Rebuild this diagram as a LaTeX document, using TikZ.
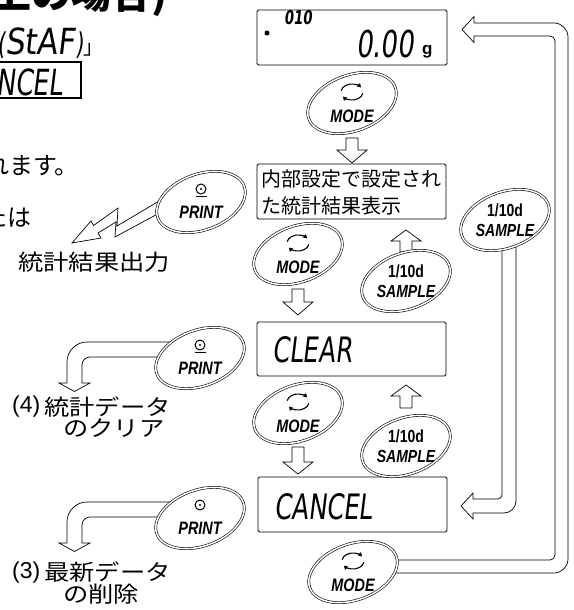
\documentclass[tikz,border=0pt]{standalone}
\usepackage{fontspec}
\setmainfont{Liberation Sans}
\newfontfamily\jp{Noto Sans CJK JP}
\newfontfamily\jpw[FakeStretch=1.15]{Noto Sans CJK JP}
\newfontfamily\segf[FakeStretch=0.7,FakeSlant=0.12]{DejaVu Sans}
\newfontfamily\segw[FakeStretch=0.85,FakeSlant=0.12]{DejaVu Sans}
\newfontfamily\btnf[FakeStretch=0.8]{Liberation Sans}
\usetikzlibrary{arrows.meta,calc}
\newcommand\fs[1]{\fontsize{#1}{#1}\selectfont}
\newcommand\btnoval[1]{\draw[btn,rotate around={20:(#1)}] (#1) ellipse (46 and 28);}
\newcommand\modebtn[2]{%
  \coordinate (#1) at (#2);
  \btnoval{#1}
  \draw[icn] ($(#1)+(0,-11)$) ++(-170:11 and 8) arc[start angle=-170,end angle=-35,x radius=11,y radius=8];
  \draw[icn] ($(#1)+(0,-11)$) ++(10:11 and 8) arc[start angle=10,end angle=145,x radius=11,y radius=8];
  \node[lbl,font=\btnf\bfseries\itshape\fs{18}] (#1t) at ($(#1)+(0,13)$) {MODE};
}
\newcommand\printbtn[3]{%
  \coordinate (#1) at (#2);
  \btnoval{#1}
  \draw[line width=1pt] ($(#1)+(0,-13)$) circle (5);
  \fill ($(#1)+(0,-13)$) circle (1.2);
  #3
  \node[lbl,font=\btnf\bfseries\itshape\fs{18}] (#1t) at ($(#1)+(0,10)$) {PRINT};
}
\newcommand\samplebtn[2]{%
  \coordinate (#1) at (#2);
  \btnoval{#1}
  \node[lbl,font=\btnf\bfseries\fs{17.5}] (#1a) at ($(#1)+(0,-10)$) {1/10d};
  \node[lbl,font=\btnf\bfseries\itshape\fs{17.5}] (#1b) at ($(#1)+(0,10)$) {SAMPLE};
}
\newcommand\blkarrow[4]{%
  \draw[blk] (#1-6,#2) -- (#1+6,#2) -- (#1+6,#3) -- (#1+15,#3) -- (#1,#4) -- (#1-15,#3) -- (#1-6,#3) -- cycle;}
\begin{document}
\begin{tikzpicture}[x=1pt,y=-1pt,
  disp/.style={draw,line width=0.8pt,rounded corners=1.5pt,fill=white,inner sep=0pt},
  blk/.style={draw,line width=0.7pt,fill=white,line join=miter},
  btn/.style={draw,line width=0.6pt,double=white,double distance=1.5pt,fill=white},
  icn/.style={line width=1.1pt,-{Triangle[length=3.8pt,width=4.4pt]}},
  lbl/.style={inner sep=0pt}]
\useasboundingbox (0,0) rectangle (573,610);
\clip (0,0) rectangle (573,610);
\fill[white] (0,0) rectangle (573,610);

% clipped text at top left
\node[lbl,anchor=base east,font=\jp\bfseries\fs{40}] (h0) at (168,9) {以上の場合)};
\node[lbl,anchor=base west] (h1) at (-3,55) {{\segf\fs{30}(}{\segw\fs{36}StAF}{\segf\fs{30})}{\jp\fs{20}」}};
\node[draw,line width=2pt,minimum width=232pt,minimum height=36pt,anchor=east,inner sep=0pt] (h2) at (82,80) {};
\node[lbl,anchor=base east,font=\segf\fs{36}] (h2a) at (63,95) {CANCEL};
\node[lbl,anchor=east,font=\jp\fs{24}] (h3) at (79,166) {されます。};
\node[lbl,anchor=east,font=\jp\fs{24}] (h4) at (32,217.5) {または};

% displays
\node[disp,minimum width=190pt,minimum height=55pt] (d0) at (352,37.5) {};
\fill (267,33) circle (2.5);
\node[lbl,anchor=base west,font=\segf\bfseries\fs{19}] (d0a) at (284,25) {010};
\node[lbl,anchor=base east,font=\segf\fs{37}] (d0b) at (414,57) {0.00};
\node[lbl,anchor=base west,font=\bfseries\fs{17}] (d0c) at (422,55) {g};

\node[disp,minimum width=189pt,minimum height=55pt] (d1) at (351.5,191.5) {};
\node[lbl,anchor=west,font=\jp\fs{20}] (d1a) at (261,179) {内部設定で設定され};
\node[lbl,anchor=west,font=\jp\fs{20}] (d1b) at (261,206) {た統計結果表示};

\node[disp,minimum width=189pt,minimum height=54pt] (d2) at (351.5,349) {};
\node[lbl,anchor=base west,font=\segf\fs{35}] (d2a) at (272,362) {CLEAR};

\node[disp,minimum width=189pt,minimum height=55pt] (d3) at (352.5,504.5) {};
\node[lbl,anchor=base west,font=\segf\fs{35}] (d3a) at (274,519) {CANCEL};

% small block arrows
\blkarrow{352}{138}{150}{163}
\blkarrow{406}{252}{241}{230}
\blkarrow{298}{289}{302}{315}
\blkarrow{406}{408}{396}{385}
\blkarrow{298}{447}{462}{474}

% big loop MODE -> top display
\draw[blk] (474,23) -- (554,23) .. controls (561.7,23) and (568,29.3) .. (568,37) -- (568,559)
  .. controls (568,566.7) and (561.7,573) .. (554,573) -- (380,573) -- (380,560) -- (550,560)
  .. controls (552.8,560) and (555,557.8) .. (555,555) -- (555,41) .. controls (555,38.2) and (552.8,36) .. (550,36)
  -- (474,36) -- (474,42.5) -- (462,29.5) -- (474,16.5) -- cycle;
% loop SAMPLE -> CANCEL
\draw[blk] (502,235) -- (502,495) .. controls (502,497.2) and (499.8,499) .. (498,499) -- (473,499) -- (473,493)
  -- (461,506) -- (473,519) -- (473,513) -- (504,513) .. controls (510.6,513) and (516,507.6) .. (516,501)
  -- (516,235) -- cycle;
% lightning arrow
\draw[blk] (165,197.5) -- (117,226) -- (118,208) -- (93.5,225.5) -- (91,221) -- (72,243) -- (101,238)
  -- (98,233) -- (116,222) -- (115,237) -- (165,210) -- cycle;
% bent arrows
\draw[blk] (175,342) -- (87,342) .. controls (76,342) and (67,351) .. (67,362) -- (67,383) -- (59,383)
  -- (74.5,391.5) -- (90,383) -- (82,383) -- (82,365) .. controls (82,360.6) and (85.6,357) .. (90,357)
  -- (175,357) -- cycle;
\begin{scope}[shift={(0,160)}]
\draw[blk] (175,342) -- (87,342) .. controls (76,342) and (67,351) .. (67,362) -- (67,383) -- (59,383)
  -- (74.5,391.5) -- (90,383) -- (82,383) -- (82,365) .. controls (82,360.6) and (85.6,357) .. (90,357)
  -- (175,357) -- cycle;
\end{scope}

% buttons
\modebtn{m1}{352,103}
\modebtn{m2}{298,254}
\modebtn{m3}{298,413}
\modebtn{m4}{353,572}
\printbtn{p1}{201,202}{\draw[line width=0.8pt] ($(p1)+(-5.5,-6)$) -- ($(p1)+(5.5,-6)$);}
\printbtn{p2}{200,358}{\draw[line width=0.8pt] ($(p2)+(-5.5,-6)$) -- ($(p2)+(5.5,-6)$);}
\printbtn{p3}{200,518}{}
\samplebtn{sr}{505,220}
\samplebtn{s1}{406,281}
\samplebtn{s2}{406,446}

% left labels
\node[lbl,font=\jpw\fs{22}] (o1) at (94,262) {統計結果出力};
\node[lbl,anchor=west,font=\fs{23}] (c4) at (12,407) {(4)};
\node[lbl,anchor=west,font=\jpw\fs{22}] (c4a) at (44,407) {統計データ};
\node[lbl,anchor=west,font=\jpw\fs{22}] (c4b) at (63,428) {のクリア};
\node[lbl,anchor=west,font=\fs{23}] (c3) at (12,572.5) {(3)};
\node[lbl,anchor=west,font=\jpw\fs{22}] (c3a) at (44,572.5) {最新データ};
\node[lbl,anchor=west,font=\jpw\fs{22}] (c3b) at (63,594) {の削除};
\end{tikzpicture}
\end{document}
